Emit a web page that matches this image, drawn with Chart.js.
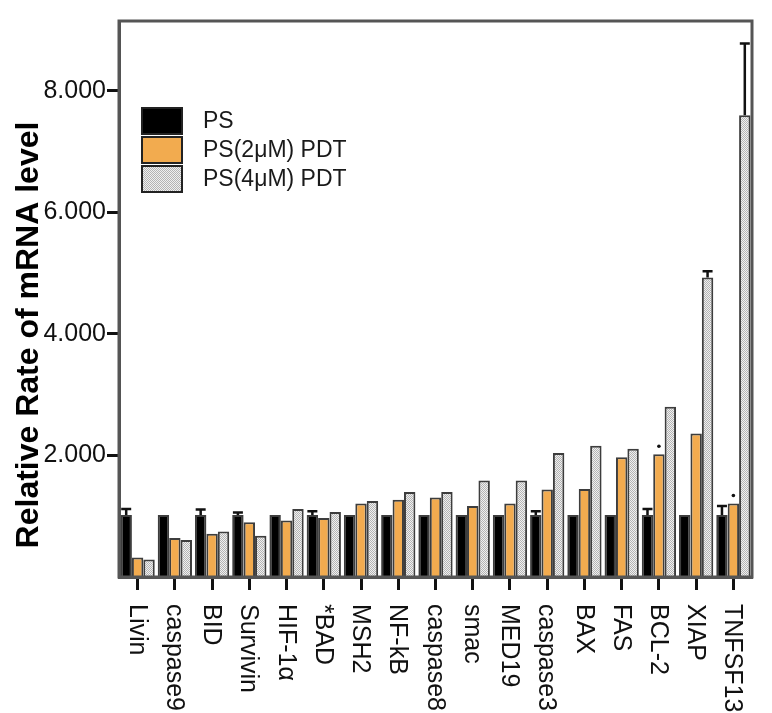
<!DOCTYPE html>
<html>
<head>
<meta charset="utf-8">
<script src="https://cdn.jsdelivr.net/npm/chart.js@4.4.1/dist/chart.umd.min.js"></script>
<style>
  html, body { margin: 0; padding: 0; background: #fff; }
  #wrap { width: 772px; height: 713px; }
</style>
</head>
<body>
<div id="wrap"><canvas id="chart" width="772" height="713"></canvas></div>
<script>
const genes = ['Livin', 'caspase9', 'BID', 'Survivin', 'HIF-1α', '*BAD', 'MSH2', 'NF-kB', 'caspase8',
  'smac', 'MED19', 'caspase3', 'BAX', 'FAS', 'BCL-2', 'XIAP', 'TNFSF13'];
const seriesNames = ['PS', 'PS(2μM) PDT', 'PS(4μM) PDT'];
const ps   = [1.02, 1.02, 1.02, 1.02, 1.02, 1.02, 1.02, 1.02, 1.02, 1.02, 1.02, 1.02, 1.02, 1.02, 1.02, 1.02, 1.02];
const pdt2 = [0.32, 0.64, 0.71, 0.90, 0.93, 0.97, 1.21, 1.27, 1.31, 1.17, 1.21, 1.44, 1.45, 1.97, 2.02, 2.36, 1.21];
const pdt4 = [0.29, 0.61, 0.75, 0.68, 1.12, 1.07, 1.25, 1.40, 1.40, 1.59, 1.59, 2.04, 2.16, 2.11, 2.80, 4.93, 7.60];
const psErr   = [0.10, 0, 0.09, 0.04, 0, 0.06, 0, 0, 0, 0, 0, 0.06, 0, 0, 0.10, 0, 0.15];
const pdt2Err = [0, 0, 0, 0, 0, 0, 0, 0, 0, 0, 0, 0, 0, 0, 0, 0, 0];
const pdt4Err = [0, 0, 0, 0, 0, 0, 0, 0, 0, 0, 0, 0, 0, 0, 0, 0.10, 1.18];
const pdt2Sig = [0, 0, 0, 0, 0, 0, 0, 0, 0, 0, 0, 0, 0, 0, 1, 0, 1];
const yTicks = [2, 4, 6, 8];

const FONT = '"Liberation Sans", Arial, sans-serif';
const EDGE = '#3d3d3d';

// fine grey stipple like the original fill
function makeStipple() {
  const c = document.createElement('canvas');
  c.width = 2; c.height = 2;
  const g = c.getContext('2d');
  g.fillStyle = '#f0f0f0';
  g.fillRect(0, 0, 2, 2);
  g.fillStyle = '#b4b4b4';
  g.fillRect(0, 0, 1, 1);
  g.fillRect(1, 1, 1, 1);
  return g.createPattern(c, 'repeat');
}
const stipple = makeStipple();
const fills = ['#000000', '#f2ab4f', stipple];

const errs = [psErr, pdt2Err, pdt4Err];

const extras = {
  id: 'extras',
  afterDatasetsDraw(chart) {
    const ctx = chart.ctx;
    const y = chart.scales.y;
    ctx.save();
    errs.forEach((arr, di) => {
      const meta = chart.getDatasetMeta(di);
      meta.data.forEach((bar, i) => {
        const v = chart.data.datasets[di].data[i];
        if (arr[i] > 0) {
          const top = y.getPixelForValue(v + arr[i]);
          ctx.strokeStyle = '#111';
          ctx.lineWidth = 2.5;
          ctx.beginPath();
          ctx.moveTo(bar.x, bar.y);
          ctx.lineTo(bar.x, top);
          ctx.moveTo(bar.x - 5, top);
          ctx.lineTo(bar.x + 5, top);
          ctx.stroke();
        }
        if (di === 1 && pdt2Sig[i]) {
          ctx.fillStyle = '#111';
          ctx.beginPath();
          ctx.arc(bar.x, bar.y - 8, 1.8, 0, Math.PI * 2);
          ctx.fill();
        }
      });
    });
    ctx.restore();
  },
  afterDraw(chart) {
    const ctx = chart.ctx;
    const a = chart.chartArea;
    const x = chart.scales.x;
    ctx.save();
    // frame
    ctx.strokeStyle = '#555';
    ctx.lineWidth = 3;
    ctx.strokeRect(a.left, a.top, a.right - a.left, a.bottom - a.top);

    // category labels, rotated clockwise
    ctx.fillStyle = '#111';
    ctx.font = '25px ' + FONT;
    ctx.textAlign = 'left';
    ctx.textBaseline = 'middle';
    genes.forEach((g, i) => {
      const px = x.getPixelForValue(i);
      ctx.save();
      ctx.translate(px - 1, a.bottom + 27);
      ctx.rotate(Math.PI / 2);
      ctx.fillText(g, 0, 0);
      ctx.restore();
    });

    // y title
    ctx.save();
    ctx.translate(29, 335);
    ctx.rotate(-Math.PI / 2);
    ctx.textAlign = 'center';
    ctx.textBaseline = 'middle';
    ctx.font = 'bold 32px ' + FONT;
    ctx.fillStyle = '#000';
    ctx.fillText('Relative Rate of mRNA level', 0, 0);
    ctx.restore();

    // legend
    const boxes = [108, 137, 166];
    seriesNames.forEach((name, i) => {
      ctx.fillStyle = fills[i];
      ctx.fillRect(142, boxes[i], 40, 26);
      ctx.strokeStyle = '#222';
      ctx.lineWidth = 2;
      ctx.strokeRect(142, boxes[i], 40, 26);
      ctx.fillStyle = '#1a1a1a';
      ctx.font = '23px ' + FONT;
      ctx.textAlign = 'left';
      ctx.textBaseline = 'middle';
      ctx.fillText(name, 203, boxes[i] + 14);
    });
    ctx.restore();
  }
};

const values = [ps, pdt2, pdt4];
new Chart(document.getElementById('chart'), {
  type: 'bar',
  data: {
    labels: genes,
    datasets: values.map((d, i) => ({
      label: seriesNames[i],
      data: d,
      backgroundColor: fills[i],
      borderColor: EDGE,
      borderWidth: 2,
      categoryPercentage: 0.92,
      barPercentage: 1.0
    }))
  },
  options: {
    responsive: false,
    animation: false,
    layout: { padding: { top: 21, right: 20, left: 0, bottom: 0 } },
    plugins: { legend: { display: false }, tooltip: { enabled: false } },
    scales: {
      x: {
        afterFit: s => { s.height = 136; },
        ticks: { display: false },
        grid: {
          offset: false,
          drawOnChartArea: false,
          drawTicks: true,
          tickLength: 13,
          tickWidth: 3,
          tickColor: '#111'
        },
        border: { display: true, color: '#555', width: 3 }
      },
      y: {
        min: 0,
        max: 9.15,
        afterFit: s => { s.width = 119; },
        afterBuildTicks: s => { s.ticks = yTicks.map(v => ({ value: v })); },
        ticks: {
          padding: 1,
          color: '#111',
          font: { family: FONT, size: 25 },
          callback: v => v.toFixed(3)
        },
        grid: {
          drawOnChartArea: false,
          drawTicks: true,
          tickLength: 12,
          tickWidth: 3,
          tickColor: '#111'
        },
        border: { display: true, color: '#555', width: 3 }
      }
    }
  },
  plugins: [extras]
});
</script>
</body>
</html>
